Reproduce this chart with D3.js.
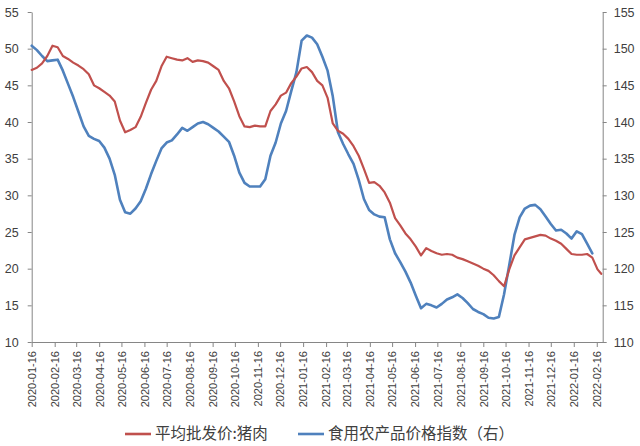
<!DOCTYPE html>
<html><head><meta charset="utf-8">
<script src="https://cdn.jsdelivr.net/npm/d3@7"></script>
<style>body{margin:0;background:#fff}svg{display:block}</style>
</head><body><svg id="c" width="640" height="446"></svg>
<script>
const weekDates = [
"2020-01-16","2020-01-23","2020-01-30","2020-02-06","2020-02-13","2020-02-20","2020-02-27","2020-03-05","2020-03-12","2020-03-19",
"2020-03-26","2020-04-02","2020-04-09","2020-04-16","2020-04-23","2020-04-30","2020-05-07","2020-05-14","2020-05-21","2020-05-28",
"2020-06-04","2020-06-11","2020-06-18","2020-06-25","2020-07-02","2020-07-09","2020-07-16","2020-07-23","2020-07-30","2020-08-06",
"2020-08-13","2020-08-20","2020-08-27","2020-09-03","2020-09-10","2020-09-17","2020-09-24","2020-10-01","2020-10-08","2020-10-15",
"2020-10-22","2020-10-29","2020-11-05","2020-11-12","2020-11-19","2020-11-26","2020-12-03","2020-12-10","2020-12-17","2020-12-24",
"2020-12-31","2021-01-07","2021-01-14","2021-01-21","2021-01-28","2021-02-04","2021-02-11","2021-02-18","2021-02-25","2021-03-04",
"2021-03-11","2021-03-18","2021-03-25","2021-04-01","2021-04-08","2021-04-15","2021-04-22","2021-04-29","2021-05-06","2021-05-13",
"2021-05-20","2021-05-27","2021-06-03","2021-06-10","2021-06-17","2021-06-24","2021-07-01","2021-07-08","2021-07-15","2021-07-22",
"2021-07-29","2021-08-05","2021-08-12","2021-08-19","2021-08-26","2021-09-02","2021-09-09","2021-09-16","2021-09-23","2021-09-30",
"2021-10-07","2021-10-14","2021-10-21","2021-10-28","2021-11-04","2021-11-11","2021-11-18","2021-11-25","2021-12-02","2021-12-09",
"2021-12-16","2021-12-23","2021-12-30","2022-01-06","2022-01-13","2022-01-20","2022-01-27","2022-02-03","2022-02-10","2022-02-17"
];
const porkExtraDates = ["2022-02-22"];

// 平均批发价:猪肉 (left axis)
const porkPrice = [
47.1,47.4,48.0,49.0,50.4,50.2,49.0,48.6,48.1,47.7,
47.2,46.5,45.0,44.6,44.1,43.6,42.8,40.2,38.6,38.9,
39.3,40.7,42.6,44.4,45.6,47.6,48.9,48.7,48.5,48.4,
48.7,48.2,48.4,48.3,48.1,47.6,47.1,45.6,44.6,42.8,
40.8,39.4,39.3,39.5,39.4,39.4,41.5,42.4,43.6,44.0,
45.3,46.2,47.3,47.5,46.8,45.6,45.0,43.3,39.8,38.8,
38.4,37.7,36.7,35.4,33.6,31.7,31.8,31.3,30.4,29.0,
26.9,25.9,24.8,24.0,23.0,21.8,22.8,22.4,22.1,21.9,
22.0,21.9,21.5,21.3,21.0,20.7,20.4,20.0,19.7,19.1,
18.3,17.6,19.9,21.8,22.9,24.0,24.2,24.4,24.6,24.5,
24.1,23.8,23.4,22.7,22.0,21.9,21.9,22.0,21.5,19.9,
19.3
];

// 食用农产品价格指数（右） (right axis)
const foodIndex = [
150.4,149.8,149.0,148.3,148.4,148.5,147.0,145.2,143.4,141.4,
139.4,138.1,137.7,137.4,136.5,135.0,132.8,129.4,127.7,127.5,
128.2,129.2,130.9,132.9,134.7,136.4,137.2,137.5,138.3,139.2,
138.8,139.3,139.8,140.0,139.7,139.2,138.7,138.0,137.3,135.4,
133.1,131.7,131.2,131.2,131.2,132.2,135.4,137.2,139.8,141.5,
144.2,146.8,151.1,151.8,151.5,150.6,148.9,147.0,143.5,138.6,
137.0,135.6,134.3,132.1,129.5,128.0,127.4,127.1,127.0,124.0,
122.1,120.9,119.6,118.1,116.3,114.6,115.2,115.0,114.7,115.2,
115.8,116.1,116.5,116.0,115.3,114.5,114.1,113.8,113.3,113.2,
113.4,116.5,120.5,124.6,127.0,128.2,128.6,128.7,128.1,127.1,
126.1,125.2,125.3,124.8,124.1,125.1,124.7,123.4,122.1
];

const xTickLabels = [
"2020-01-16","2020-02-16","2020-03-16","2020-04-16","2020-05-16","2020-06-16","2020-07-16","2020-08-16","2020-09-16","2020-10-16",
"2020-11-16","2020-12-16","2021-01-16","2021-02-16","2021-03-16","2021-04-16","2021-05-16","2021-06-16","2021-07-16","2021-08-16",
"2021-09-16","2021-10-16","2021-11-16","2021-12-16","2022-01-16","2022-02-16"
];
const leftTicks = [10,15,20,25,30,35,40,45,50,55];
const rightTicks = [110,115,120,125,130,135,140,145,150,155];
const seriesNames = ["平均批发价:猪肉","食用农产品价格指数（右）"];
const seriesColors = ["#C0504D","#4F81BD"];

const parse = d3.timeParse("%Y-%m-%d");
const svg = d3.select("#c");
const L = 31.7, R = 602.7, T = 12, B = 342;
const axisColor = "#868686", textColor = "#404040";
const font = "'Liberation Sans', Arial, sans-serif";

const x = d3.scaleTime().domain([parse("2020-01-16"), parse("2022-02-24")]).range([L, R]);
const yL = d3.scaleLinear().domain([10, 55]).range([B, T]);
const yR = d3.scaleLinear().domain([110, 155]).range([B, T]);

function styleAxis(g, size) {
  g.select(".domain").attr("stroke", axisColor).attr("stroke-width", 1);
  g.selectAll(".tick line").attr("stroke", axisColor);
  g.selectAll("text").attr("fill", textColor).style("font-family", font).style("font-size", size + "px");
}

svg.append("g").attr("transform", `translate(${L},0)`)
  .call(d3.axisLeft(yL).tickValues(leftTicks).tickSize(4).tickSizeOuter(0).tickPadding(9))
  .call(g => styleAxis(g, 12.5));

svg.append("g").attr("transform", `translate(${R},0)`)
  .call(d3.axisRight(yR).tickValues(rightTicks).tickSize(4).tickSizeOuter(0).tickPadding(7))
  .call(g => styleAxis(g, 12.5));

const gx = svg.append("g").attr("transform", `translate(0,${B})`)
  .call(d3.axisBottom(x).tickValues(xTickLabels.map(parse)).tickFormat(d3.timeFormat("%Y-%m-%d")).tickSize(5).tickSizeOuter(0));
styleAxis(gx, 11);
gx.selectAll(".tick text")
  .attr("transform", "rotate(-90)")
  .attr("text-anchor", "end")
  .attr("x", -9).attr("y", 0).attr("dy", "0.35em");

const porkData = weekDates.concat(porkExtraDates).map((d, i) => ({ d: parse(d), v: porkPrice[i] }));
const indexData = foodIndex.map((v, i) => ({ d: parse(weekDates[i]), v }));

svg.append("path").datum(indexData)
  .attr("fill", "none").attr("stroke", seriesColors[1]).attr("stroke-width", 2.6)
  .attr("stroke-linejoin", "round").attr("stroke-linecap", "round")
  .attr("d", d3.line().x(p => x(p.d)).y(p => yR(p.v)));

svg.append("path").datum(porkData)
  .attr("fill", "none").attr("stroke", seriesColors[0]).attr("stroke-width", 2.2)
  .attr("stroke-linejoin", "round").attr("stroke-linecap", "round")
  .attr("d", d3.line().x(p => x(p.d)).y(p => yL(p.v)));

// legend
const legend = svg.append("g");
const legendPos = [{ lx: 125, tx: 155 }, { lx: 298, tx: 328 }];
seriesNames.forEach((name, i) => {
  const g = legend.append("g");
  g.append("line").attr("x1", legendPos[i].lx).attr("x2", legendPos[i].lx + 26)
    .attr("y1", 434).attr("y2", 434).attr("stroke", seriesColors[i]).attr("stroke-width", 2.6);
  g.append("text").attr("x", legendPos[i].tx).attr("y", 434).attr("dy", "0.35em")
    .attr("fill", textColor).style("font-family", "'Noto Sans CJK SC', sans-serif").style("font-size", "15.5px")
    .text(name);
});
</script></body></html>
